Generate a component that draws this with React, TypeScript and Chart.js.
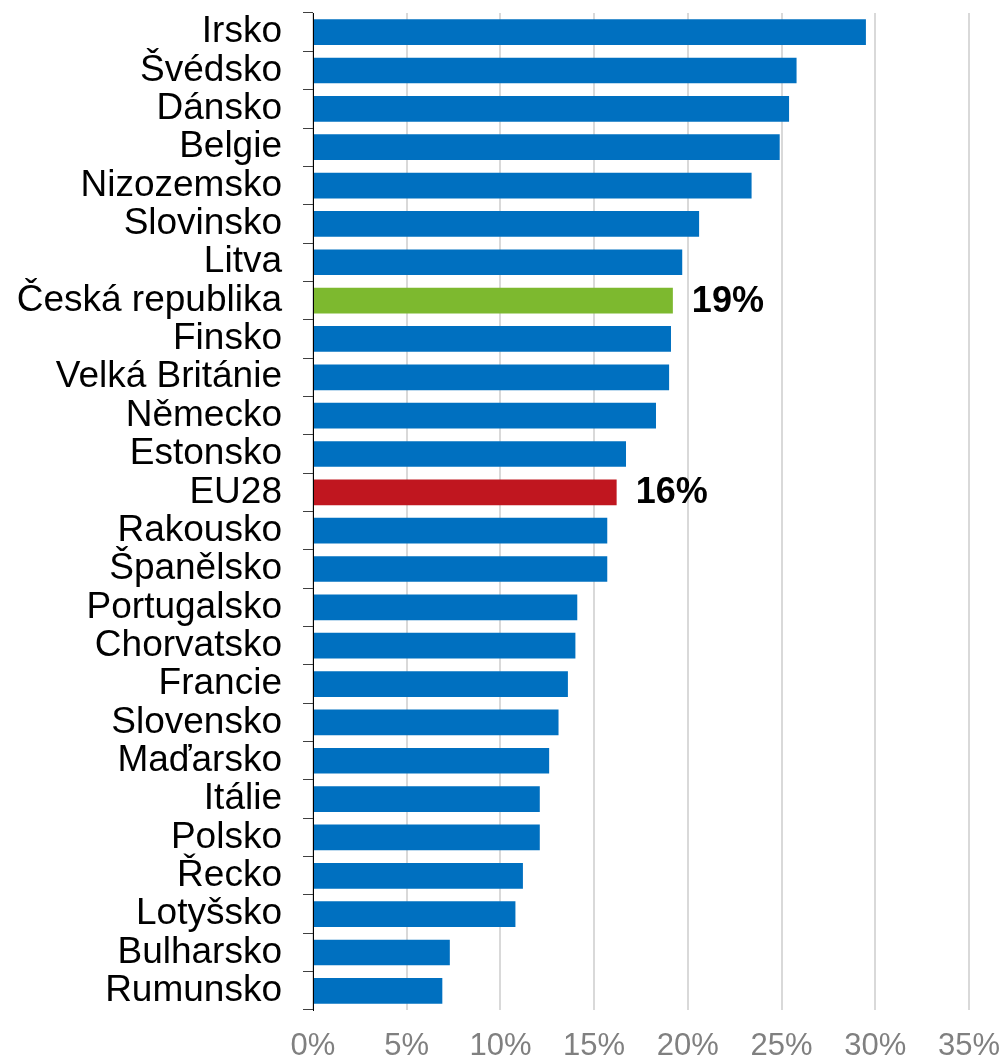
import React, { useEffect, useRef } from "react";
import { Chart, registerables } from "chart.js";

Chart.register(...registerables);

const categories = [
  "Irsko", "Švédsko", "Dánsko", "Belgie", "Nizozemsko", "Slovinsko", "Litva",
  "Česká republika", "Finsko", "Velká Británie", "Německo", "Estonsko", "EU28",
  "Rakousko", "Španělsko", "Portugalsko", "Chorvatsko", "Francie", "Slovensko",
  "Maďarsko", "Itálie", "Polsko", "Řecko", "Lotyšsko", "Bulharsko", "Rumunsko",
];

const values = [
  29.5, 25.8, 25.4, 24.9, 23.4, 20.6, 19.7,
  19.2, 19.1, 19.0, 18.3, 16.7, 16.2,
  15.7, 15.7, 14.1, 14.0, 13.6, 13.1,
  12.6, 12.1, 12.1, 11.2, 10.8, 7.3, 6.9,
];

const highlighted = ["Česká republika", "EU28"];
const xTicks = [0, 5, 10, 15, 20, 25, 30, 35];

const BLUE = "#0070C0";
const GREEN = "#7DB92F";
const RED = "#C0161F";

const FONT = "'Liberation Sans', Arial, sans-serif";

export default function App() {
  const ref = useRef<HTMLCanvasElement | null>(null);

  useEffect(() => {
    if (!ref.current) return;
    const colors = categories.map((c) =>
      c === "Česká republika" ? GREEN : c === "EU28" ? RED : BLUE
    );

    const valueLabels = {
      id: "valueLabels",
      afterDatasetsDraw(chart: any) {
        const ctx = chart.ctx;
        const meta = chart.getDatasetMeta(0);
        ctx.save();
        ctx.font = `bold 36px ${FONT}`;
        ctx.fillStyle = "#000000";
        ctx.textAlign = "left";
        ctx.textBaseline = "middle";
        categories.forEach((c, i) => {
          if (!highlighted.includes(c)) return;
          const el = meta.data[i];
          ctx.fillText(Math.round(values[i]) + "%", el.x + 19, el.y + 1);
        });
        ctx.restore();
      },
    };

    const chart = new Chart(ref.current, {
      type: "bar",
      data: {
        labels: categories,
        datasets: [
          {
            data: values,
            backgroundColor: colors,
            borderWidth: 0,
            barPercentage: 0.67,
            categoryPercentage: 1,
          },
        ],
      },
      options: {
        indexAxis: "y",
        animation: false,
        responsive: false,
        layout: { padding: { top: 13, right: 33, left: 0, bottom: 0 } },
        plugins: { legend: { display: false }, tooltip: { enabled: false } },
        scales: {
          x: {
            min: 0,
            max: 35,
            afterBuildTicks: (s: any) => {
              s.ticks = xTicks.map((v) => ({ value: v }));
            },
            afterFit: (s: any) => {
              s.paddingLeft = 0;
              s.paddingRight = 0;
              s.paddingBottom = 0;
              s.paddingTop = 0;
              s.height = 52;
            },
            ticks: {
              callback: (v: any) => v + "%",
              color: "#808080",
              font: { family: FONT, size: 31, lineHeight: 1.1 },
              padding: 19,
              maxRotation: 0,
            },
            grid: {
              color: "#D9D9D9",
              lineWidth: 2,
              drawTicks: false,
            },
            border: { display: false },
          },
          y: {
            afterFit: (s: any) => {
              s.width = 313;
              s.paddingTop = 0;
              s.paddingBottom = 0;
            },
            ticks: {
              color: "#000000",
              font: { family: FONT, size: 37, lineHeight: 1.0 },
              padding: 21,
              autoSkip: false,
            },
            grid: {
              drawOnChartArea: false,
              drawTicks: true,
              tickLength: 10,
              color: "#404040",
              lineWidth: 1,
              offset: true,
            },
            border: { display: true, color: "#000000", width: 1 },
          },
        },
      },
      plugins: [valueLabels],
    });
    return () => chart.destroy();
  }, []);

  return (
    <div style={{ position: "absolute", left: 0, top: 0, width: 1002, height: 1062, background: "#fff" }}>
      <canvas ref={ref} width={1002} height={1062} style={{ display: "block" }} />
    </div>
  );
}
